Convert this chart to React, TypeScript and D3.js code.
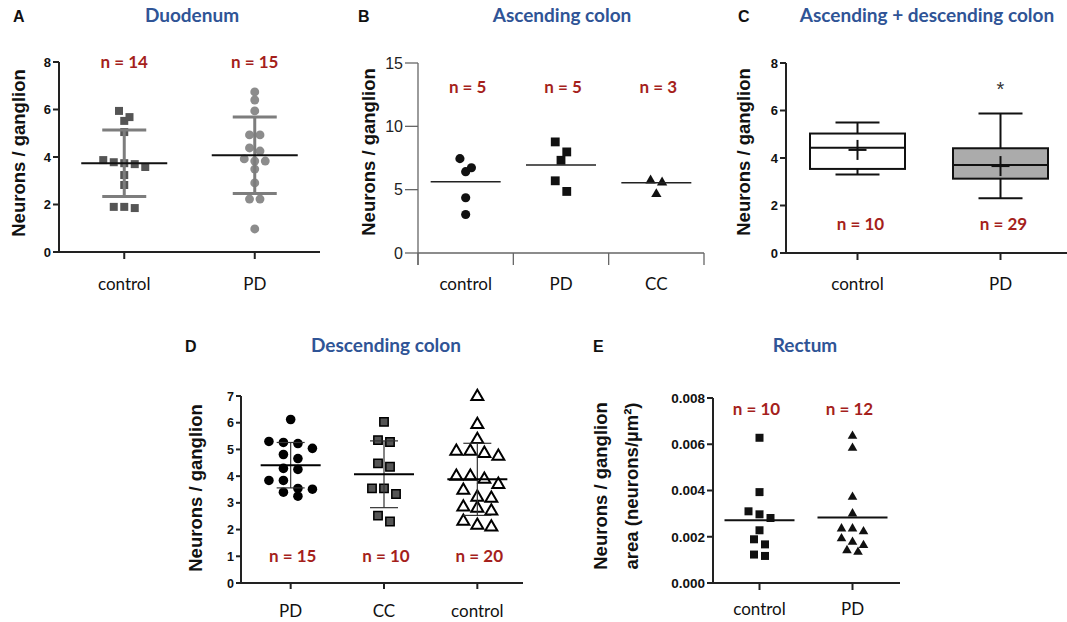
import React from 'react';
import * as d3 from 'd3';

// ---- data ----
// A: Duodenum
const duoCats = ['control', 'PD'];
const duoControl = [5.94, 5.52, 5.68, 5.05, 3.87, 3.74, 3.58, 3.7, 3.78, 3.24, 2.82, 1.9, 1.85, 1.9];
const duoPD = [6.74, 6.4, 5.94, 4.93, 4.93, 4.38, 4.25, 3.83, 3.92, 3.83, 3.49, 2.91, 2.23, 2.23, 0.97];
const duoMean = [3.74, 4.07];
const duoSD = [1.4, 1.61];
const duoN = ['n = 14', 'n = 15'];
const duoTicks = [0, 2, 4, 6, 8];

// B: Ascending colon
const ascCats = ['control', 'PD', 'CC'];
const ascControl = [7.45, 6.42, 6.73, 4.36, 3.04];
const ascPD = [8.77, 7.98, 7.32, 5.7, 4.86];
const ascCC = [5.73, 5.57, 4.65];
const ascMean = [5.62, 6.94, 5.54];
const ascN = ['n = 5', 'n = 5', 'n = 3'];
const ascTicks = [0, 5, 10, 15];

// C: Ascending + descending colon (min, q1, median, q3, max)
const adCats = ['control', 'PD'];
const adControlBox = [3.31, 3.54, 4.43, 5.03, 5.5];
const adPDBox = [2.31, 3.13, 3.71, 4.41, 5.87];
const adMean = [4.34, 3.66];
const adN = ['n = 10', 'n = 29'];
const adTicks = [0, 2, 4, 6, 8];

// D: Descending colon
const descCats = ['PD', 'CC', 'control'];
const descPD = [6.12, 5.26, 5.22, 5.3, 5.04, 4.66, 4.81, 4.29, 4.25, 3.84, 3.84, 3.51, 3.54, 3.4, 3.25];
const descCC = [6.03, 5.35, 5.28, 4.35, 4.48, 3.54, 3.54, 3.33, 2.52, 2.3];
const descControl = [6.98, 5.93, 5.37, 4.93, 4.74, 4.93, 4.85, 3.99, 3.88, 3.99, 3.69, 3.47, 3.17, 3.21, 2.84, 2.8, 2.69, 2.31, 2.09, 2.16];
const descMean = [4.41, 4.07, 3.88];
const descSD = [0.85, 1.25, 1.35];
const descN = ['n = 15', 'n = 10', 'n = 20'];
const descTicks = [0, 1, 2, 3, 4, 5, 6, 7];

// E: Rectum
const recCats = ['control', 'PD'];
const recControl = [0.00628, 0.00393, 0.00297, 0.0031, 0.00281, 0.00228, 0.00189, 0.00167, 0.00117, 0.00123];
const recPD = [0.00636, 0.00584, 0.00372, 0.003, 0.00235, 0.00223, 0.00235, 0.00192, 0.00163, 0.00177, 0.00134, 0.00141];
const recMean = [0.00271, 0.00283];
const recN = ['n = 10', 'n = 12'];
const recTicks = [0, 0.002, 0.004, 0.006, 0.008];

const ARIAL = '"Liberation Sans", Arial, sans-serif';
const CAL = 'Lato, "Open Sans", sans-serif';
const BLUE = '#2f5496';
const RED = '#a51f1c';

// spread values of similar height into centred rows (scatter-dot layout)
function swarm(vals: number[], y: (v: number) => number, tol: number, step: number) {
  const idx = vals.map((_, i) => i).sort((a, b) => vals[b] - vals[a]);
  const off = new Array(vals.length).fill(0);
  let row: number[] = [];
  const flush = () => {
    row.forEach((k, j) => (off[k] = (j - (row.length - 1) / 2) * step));
    row = [];
  };
  idx.forEach((k) => {
    if (row.length && Math.abs(y(vals[k]) - y(vals[row[0]])) > tol) flush();
    row.push(k);
  });
  flush();
  return off;
}

const sym = (type: any, size: number) => d3.symbol().type(type).size(size)() as string;

function Marks({ vals, cx, y, tol, step, shape, size, fill, stroke = 'none', sw = 0 }: any) {
  const off = swarm(vals, y, tol, step);
  const d = sym(shape, size);
  return (
    <g>
      {vals.map((v: number, i: number) => (
        <path key={i} d={d} transform={`translate(${cx + off[i]},${y(v)})`} fill={fill} stroke={stroke} strokeWidth={sw} />
      ))}
    </g>
  );
}

function YAxis({ x, y, ticks, fmt, size = 13, bold = true, len = 6, color = '#222', sw = 2, extra = 0, labelColor = '#111' }: any) {
  const [r0, r1] = y.range();
  return (
    <g>
      <line x1={x} x2={x} y1={r0 + extra} y2={r1} stroke={color} strokeWidth={sw} />
      {ticks.map((t: number) => (
        <g key={t}>
          <line x1={x - len} x2={x} y1={y(t)} y2={y(t)} stroke={color} strokeWidth={sw} />
          <text x={x - len - 2} y={y(t)} dy="0.36em" textAnchor="end" fontFamily={ARIAL} fontWeight={bold ? 700 : 400} fontSize={size} fill={labelColor}>
            {fmt ? fmt(t) : t}
          </text>
        </g>
      ))}
    </g>
  );
}

function YLabel({ x, y, lines, size = 18.5 }: any) {
  return (
    <g>
      {lines.map((l: string, i: number) => (
        <text key={i} transform={`translate(${x + i * 31},${y}) rotate(-90)`} textAnchor="middle" fontFamily={ARIAL} fontWeight={700} fontSize={size} fill="#111">
          {l}
        </text>
      ))}
    </g>
  );
}

function Head({ letter, lx, title, tx, base }: any) {
  return (
    <g>
      <text x={lx} y={base} fontFamily={ARIAL} fontWeight={700} fontSize={16} fill="#111">{letter}</text>
      <text x={tx} y={base} textAnchor="middle" fontFamily={CAL} fontWeight={700} fontSize={19} fill={BLUE}>{title}</text>
    </g>
  );
}

function Cats({ cats, x, base }: any) {
  return (
    <g>
      {cats.map((c: string) => (
        <text key={c} x={x(c)} y={base} textAnchor="middle" fontFamily={CAL} fontSize={17} fill="#111">{c}</text>
      ))}
    </g>
  );
}

function NLabels({ cats, labels, x, base, dx = 0 }: any) {
  return (
    <g>
      {cats.map((c: string, i: number) => (
        <text key={c} x={x(c) + dx} y={base} textAnchor="middle" fontFamily={CAL} fontWeight={700} fontSize={17} fill={RED}>{labels[i]}</text>
      ))}
    </g>
  );
}

function MeanSD({ cx, y, mean, sd, w, cap, color, sw, mColor = '#111', mw = 2 }: any) {
  return (
    <g>
      {sd != null && (
        <g stroke={color} strokeWidth={sw}>
          <line x1={cx} x2={cx} y1={y(mean - sd)} y2={y(mean + sd)} />
          <line x1={cx - cap / 2} x2={cx + cap / 2} y1={y(mean + sd)} y2={y(mean + sd)} />
          <line x1={cx - cap / 2} x2={cx + cap / 2} y1={y(mean - sd)} y2={y(mean - sd)} />
        </g>
      )}
      <line x1={cx - w / 2} x2={cx + w / 2} y1={y(mean)} y2={y(mean)} stroke={mColor} strokeWidth={mw} />
    </g>
  );
}

function PanelA() {
  const y = d3.scaleLinear().domain([0, 8]).range([252, 62]);
  const x = d3.scalePoint().domain(duoCats).range([59, 320]).padding(0.5);
  const groups = [duoControl, duoPD];
  return (
    <g>
      <Head letter="A" lx={13} title="Duodenum" tx={192} base={22} />
      <YLabel x={25} y={153} lines={['Neurons / ganglion']} />
      <YAxis x={59} y={y} ticks={duoTicks} />
      <line x1={59} x2={320} y1={252} y2={252} stroke="#222" strokeWidth={2} />
      {duoCats.map((c) => <line key={c} x1={x(c)} x2={x(c)} y1={252} y2={259} stroke="#222" strokeWidth={2} />)}
      <Marks vals={groups[0]} cx={x('control')!} y={y} tol={8} step={10.5} shape={d3.symbolSquare} size={64} fill="#555" />
      <Marks vals={groups[1]} cx={x('PD')!} y={y} tol={8} step={10.5} shape={d3.symbolCircle} size={62} fill="#8c8c8c" />
      {duoCats.map((c, i) => (
        <MeanSD key={c} cx={x(c)!} y={y} mean={duoMean[i]} sd={duoSD[i]} w={86} cap={44} color="#7d7d7d" sw={3} />
      ))}
      <NLabels cats={duoCats} labels={duoN} x={x} base={68} />
      <Cats cats={duoCats} x={x} base={290} />
    </g>
  );
}

function PanelB() {
  const y = d3.scaleLinear().domain([0, 15]).range([253, 63]);
  const x = d3.scaleBand().domain(ascCats).range([418, 704]);
  const cx = (c: string) => x(c)! + x.bandwidth() / 2;
  const edges = [...ascCats.map((c) => x(c)!), x.range()[1]];
  const groups = [ascControl, ascPD, ascCC];
  const shapes = [d3.symbolCircle, d3.symbolSquare, d3.symbolTriangle];
  const sizes = [66, 78, 46];
  return (
    <g>
      <Head letter="B" lx={358} title="Ascending colon" tx={562} base={22} />
      <YLabel x={375} y={152} lines={['Neurons / ganglion']} />
      <YAxis x={418} y={y} ticks={ascTicks} size={16} bold={false} len={13} color="#666" sw={1.3} extra={12} labelColor="#222" />
      <line x1={418} x2={704} y1={253} y2={253} stroke="#666" strokeWidth={1.3} />
      {edges.map((e, i) => <line key={i} x1={e} x2={e} y1={253} y2={265} stroke="#666" strokeWidth={1.3} />)}
      {ascCats.map((c, i) => (
        <Marks key={c} vals={groups[i]} cx={cx(c)} y={y} tol={12} step={11.5} shape={shapes[i]} size={sizes[i]} fill="#111" />
      ))}
      {ascCats.map((c, i) => (
        <MeanSD key={c} cx={cx(c)} y={y} mean={ascMean[i]} w={70} mColor="#222" mw={1.5} />
      ))}
      <NLabels cats={ascCats} labels={ascN} x={cx} base={93} dx={2} />
      <Cats cats={ascCats} x={cx} base={290} />
    </g>
  );
}

function PanelC() {
  const y = d3.scaleLinear().domain([0, 8]).range([253, 63]);
  const x = d3.scalePoint().domain(adCats).range([786, 1072]).padding(0.5);
  const boxes = [adControlBox, adPDBox];
  const fills = ['#fff', '#ababab'];
  const bw = 95;
  const cap = 44;
  return (
    <g>
      <Head letter="C" lx={738} title="Ascending + descending colon" tx={927} base={22} />
      <YLabel x={750} y={152} lines={['Neurons / ganglion']} />
      <YAxis x={786} y={y} ticks={adTicks} />
      <line x1={786} x2={1067} y1={253} y2={253} stroke="#222" strokeWidth={2} />
      {adCats.map((c) => <line key={c} x1={x(c)} x2={x(c)} y1={253} y2={260} stroke="#222" strokeWidth={2} />)}
      {adCats.map((c, i) => {
        const cx = x(c)!;
        const [mn, q1, md, q3, mx] = boxes[i];
        return (
          <g key={c} stroke="#111" strokeWidth={2}>
            <line x1={cx} x2={cx} y1={y(mx)} y2={y(mn)} />
            <line x1={cx - cap / 2} x2={cx + cap / 2} y1={y(mx)} y2={y(mx)} />
            <line x1={cx - cap / 2} x2={cx + cap / 2} y1={y(mn)} y2={y(mn)} />
            <rect x={cx - bw / 2} y={y(q3)} width={bw} height={y(q1) - y(q3)} fill={fills[i]} />
            <line x1={cx - bw / 2} x2={cx + bw / 2} y1={y(md)} y2={y(md)} />
            <line x1={cx - 9} x2={cx + 9} y1={y(adMean[i])} y2={y(adMean[i])} />
            <line x1={cx} x2={cx} y1={y(adMean[i]) - 10} y2={y(adMean[i]) + 10} />
          </g>
        );
      })}
      <text x={x('PD')} y={y(6.6)} textAnchor="middle" fontFamily={ARIAL} fontSize={20} fill="#333">*</text>
      <NLabels cats={adCats} labels={adN} x={x} base={230} dx={3} />
      <Cats cats={adCats} x={x} base={290} />
    </g>
  );
}

function PanelD() {
  const y = d3.scaleLinear().domain([0, 7]).range([583, 396]);
  const x = d3.scalePoint().domain(descCats).range([244, 524]).padding(0.5);
  const groups = [descPD, descCC, descControl];
  const shapes = [d3.symbolCircle, d3.symbolSquare, d3.symbolTriangle];
  const sizes = [72, 70, 62];
  const fills = ['#000', '#555', '#fff'];
  const strokes = ['none', '#000', '#000'];
  const sws = [0, 1.5, 2];
  const steps = [14.5, 12, 14];
  return (
    <g>
      <Head letter="D" lx={185} title="Descending colon" tx={386} base={352} />
      <YLabel x={202} y={488} lines={['Neurons / ganglion']} />
      <YAxis x={241} y={y} ticks={descTicks} size={12.5} len={5} />
      <line x1={241} x2={523} y1={583} y2={583} stroke="#222" strokeWidth={2} />
      {descCats.map((c) => <line key={c} x1={x(c)} x2={x(c)} y1={583} y2={589} stroke="#222" strokeWidth={2} />)}
      {descCats.map((c, i) => (
        <Marks key={c} vals={groups[i]} cx={x(c)!} y={y} tol={9} step={steps[i]} shape={shapes[i]} size={sizes[i]} fill={fills[i]} stroke={strokes[i]} sw={sws[i]} />
      ))}
      {descCats.map((c, i) => (
        <MeanSD key={c} cx={x(c)!} y={y} mean={descMean[i]} sd={descSD[i]} w={60} cap={28} color="#333" sw={1.2} mColor="#000" mw={2} />
      ))}
      <NLabels cats={descCats} labels={descN} x={x} base={562} dx={2} />
      <Cats cats={descCats} x={x} base={617} />
    </g>
  );
}

function PanelE() {
  const y = d3.scaleLinear().domain([0, 0.008]).range([583, 398]);
  const x = d3.scalePoint().domain(recCats).range([713, 899]).padding(0.5);
  const groups = [recControl, recPD];
  const shapes = [d3.symbolSquare, d3.symbolTriangle];
  const sizes = [64, 40];
  return (
    <g>
      <Head letter="E" lx={593} title="Rectum" tx={805} base={352} />
      <YLabel x={607} y={486} lines={['Neurons / ganglion', 'area (neurons/µm²)']} />
      <YAxis x={713} y={y} ticks={recTicks} fmt={d3.format('.3f')} size={13.5} len={6} />
      <line x1={713} x2={900} y1={583} y2={583} stroke="#222" strokeWidth={2} />
      {recCats.map((c) => <line key={c} x1={x(c)} x2={x(c)} y1={583} y2={590} stroke="#222" strokeWidth={2} />)}
      {recCats.map((c, i) => (
        <Marks key={c} vals={groups[i]} cx={x(c)!} y={y} tol={8} step={11} shape={shapes[i]} size={sizes[i]} fill="#111" />
      ))}
      {recCats.map((c, i) => (
        <MeanSD key={c} cx={x(c)!} y={y} mean={recMean[i]} w={70} mColor="#111" mw={2} />
      ))}
      <NLabels cats={recCats} labels={recN} x={x} base={415} dx={-3} />
      <Cats cats={recCats} x={x} base={615} />
    </g>
  );
}

export default function App() {
  return (
    <div style={{ position: 'absolute', left: 0, top: 0 }}>
      <svg width={1067} height={622} style={{ display: 'block', background: '#fff' }}>
        <PanelA />
        <PanelB />
        <PanelC />
        <PanelD />
        <PanelE />
      </svg>
    </div>
  );
}
